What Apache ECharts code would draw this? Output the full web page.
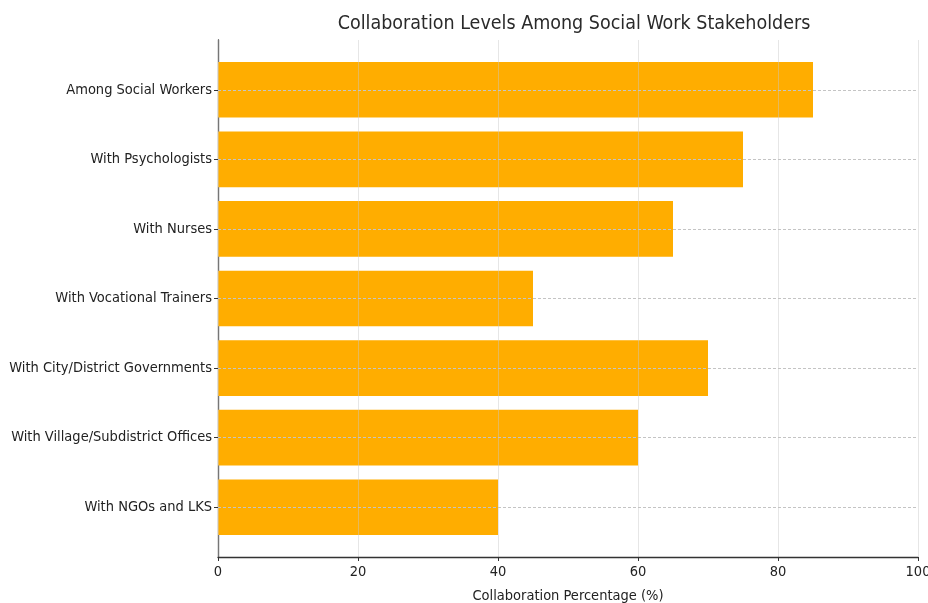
<!DOCTYPE html>
<html><head><meta charset="utf-8">
<script src="https://cdn.jsdelivr.net/npm/echarts@6/dist/echarts.min.js"></script>
<style>html,body{margin:0;padding:0;background:#fff}#c{width:928px;height:603px}</style>
</head><body><div id="c"></div>
<script>
const categories = ["Among Social Workers","With Psychologists","With Nurses","With Vocational Trainers","With City/District Governments","With Village/Subdistrict Offices","With NGOs and LKS"];
const values = [85, 75, 65, 45, 70, 60, 40];
const xTicks = [0, 20, 40, 60, 80, 100];
const titleText = "Collaboration Levels Among Social Work Stakeholders";
const xName = "Collaboration Percentage (%)";

const FONT = "DejaVu Sans Condensed, DejaVu Sans";
const chart = echarts.init(document.getElementById('c'), null, {renderer:'canvas'});
chart.setOption({
  animation:false,
  backgroundColor:'#fff',
  title:{text:titleText,left:569,textAlign:'center',top:9,textStyle:{fontFamily:FONT,fontSize:19.5,fontWeight:'normal',color:'#2a2a2a'}},
  grid:[
    {left:218,right:10,top:40,bottom:46,containLabel:false,outerBoundsMode:'none'},
    {left:218,right:10,top:55,bottom:61,containLabel:false,outerBoundsMode:'none'}
  ],
  xAxis:[
    {gridIndex:0,type:'value',min:xTicks[0],max:xTicks[xTicks.length-1],interval:20,z:5,
     name:xName,nameLocation:'middle',nameGap:32,nameTextStyle:{fontFamily:FONT,fontSize:14.5,color:'#222'},
     axisLine:{show:true,lineStyle:{color:'#333',width:1.3}},
     axisTick:{show:true,length:4,lineStyle:{color:'#333'}},
     axisLabel:{fontFamily:FONT,fontSize:14.5,color:'#222',margin:8},
     splitLine:{show:true,lineStyle:{color:'rgba(200,200,200,0.45)',width:1}}},
    {gridIndex:1,type:'value',min:0,max:100,show:false}
  ],
  yAxis:[
    {gridIndex:0,type:'value',min:0,max:1,axisLine:{show:true,onZero:false,lineStyle:{color:'#333',width:1.3}},axisTick:{show:false},axisLabel:{show:false},splitLine:{show:false}},
    {gridIndex:1,type:'category',data:categories,inverse:true,
     axisLine:{show:false},
     axisTick:{show:true,alignWithLabel:true,length:4,lineStyle:{color:'#333'}},
     axisLabel:{fontFamily:FONT,fontSize:14.5,color:'#222',margin:6},
     splitLine:{show:false}}
  ],
  series:[{
    type:'bar',xAxisIndex:1,yAxisIndex:1,data:values,barCategoryGap:'20%',
    itemStyle:{color:'#FFAD00'},
    markLine:{silent:true,symbol:['none','none'],label:{show:false},
      lineStyle:{color:'#c4c4c4',type:[3,2],width:1},
      data:categories.map(c=>({yAxis:c}))}
  }]
});
</script></body></html>
